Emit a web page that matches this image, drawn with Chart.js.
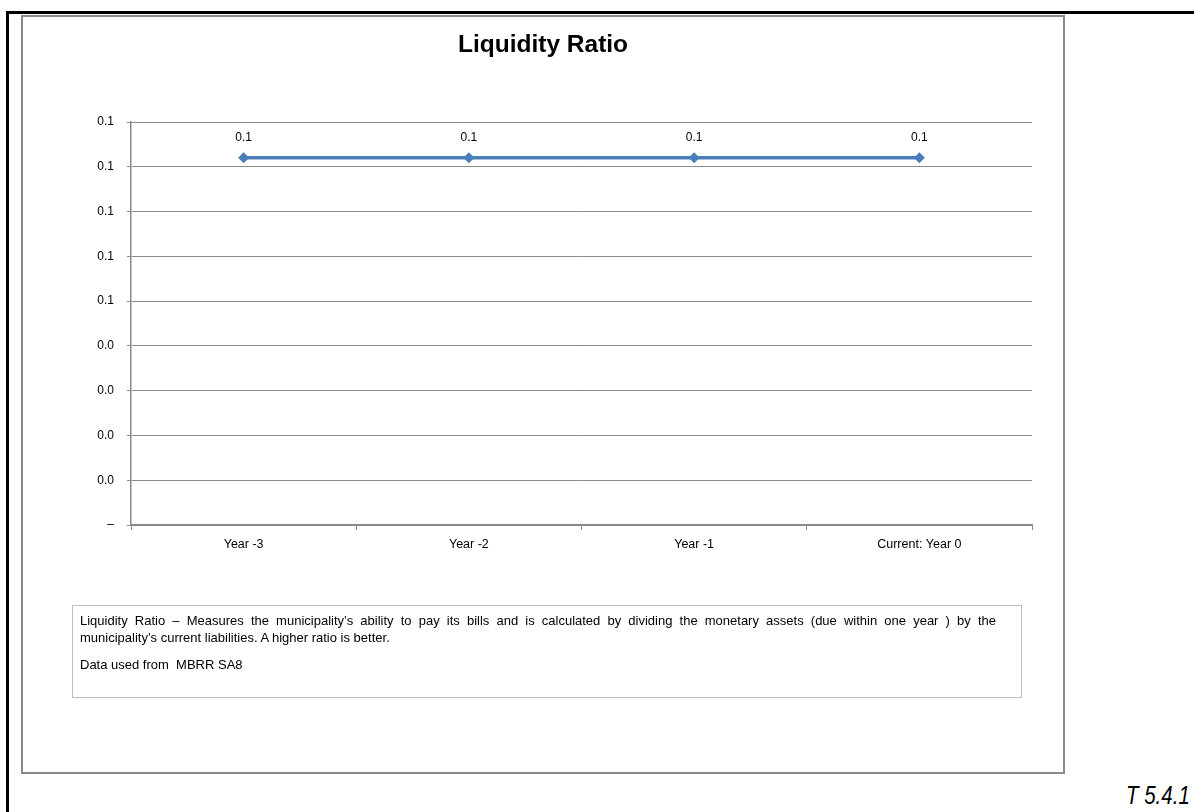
<!DOCTYPE html>
<html>
<head>
<meta charset="utf-8">
<title>Liquidity Ratio</title>
<script src="https://cdn.jsdelivr.net/npm/chart.js@4.4.0/dist/chart.umd.min.js"></script>
<style>
    body { margin: 0; background: #fff; font-family: "Liberation Sans", Arial, sans-serif; }
    #page { position: relative; width: 1194px; height: 812px; overflow: hidden; }
    #outer { position: absolute; left: 6px; top: 11px; width: 1300px; height: 900px; border-left: 3px solid #000; border-top: 3px solid #000; }
    #frame { position: absolute; left: 21px; top: 15px; width: 1040px; height: 755px; border: 2px solid #8a8a8a; }
    #title { position: absolute; left: 21px; width: 1044px; top: 30px; line-height: 28px; text-align: center; font-weight: bold; font-size: 24.5px; color: #000; }
    #chart { position: absolute; left: 22px; top: 16px; }
    #note { position: absolute; left: 72px; top: 605px; width: 948px; height: 91px; border: 1px solid #bdbdbd; font-size: 13px; color: #000; }
    #note .l1 { position: absolute; left: 7px; top: 6px; width: 916px; line-height: 17px; text-align: justify; text-align-last: justify; white-space: nowrap; }
    #note .l2 { position: absolute; left: 7px; top: 23px; line-height: 17px; }
    #note .l3 { position: absolute; left: 7px; top: 50px; line-height: 17px; }
    #ref { position: absolute; left: 1126px; top: 780px; line-height: 30px; font-style: italic; font-size: 25px; color: #000; transform: scaleX(0.82); transform-origin: left top; white-space: nowrap; }
</style>
</head>
<body>
<div id="page">
    <div id="outer"></div>
    <div id="frame"></div>
    <canvas id="chart" width="1040" height="755"></canvas>
    <div id="title">Liquidity Ratio</div>
    <div id="note">
        <div class="l1">Liquidity Ratio – Measures the municipality’s ability to pay its bills and is calculated by dividing the monetary assets (due within one year ) by the</div>
        <div class="l2">municipality’s current liabilities. A higher ratio is better.</div>
        <div class="l3">Data used from &nbsp;MBRR SA8</div>
    </div>
    <div id="ref">T 5.4.1</div>
</div>
<script>
const categories = ['Year -3', 'Year -2', 'Year -1', 'Current: Year 0'];
const liquidityRatio = [0.082, 0.082, 0.082, 0.082];
const yMin = 0;
const yMax = 0.09;
const yStep = 0.01;

// Excel-style number format: one decimal, dash for zero
function fmt(v) {
    const r = Math.round(v * 100) / 100;
    if (r === 0) return '–';
    return (Math.round(r * 10 + 1e-9) / 10).toFixed(1);
}

const pointLabels = {
    id: 'pointLabels',
    afterDatasetsDraw(chart) {
        const ctx = chart.ctx;
        const meta = chart.getDatasetMeta(0);
        ctx.save();
        ctx.font = '12px "Liberation Sans", Arial, sans-serif';
        ctx.fillStyle = '#000';
        ctx.textAlign = 'center';
        ctx.textBaseline = 'middle';
        meta.data.forEach((pt, i) => {
            ctx.fillText(fmt(liquidityRatio[i]), pt.x, pt.y - 20);
        });
        ctx.restore();
    }
};

const axisColor = '#8a8a8a';
const ctx = document.getElementById('chart').getContext('2d');
new Chart(ctx, {
    type: 'line',
    data: {
        labels: categories,
        datasets: [{
            data: liquidityRatio,
            borderColor: '#4a7ebb',
            backgroundColor: '#4a7ebb',
            borderWidth: 3.5,
            pointStyle: 'rectRot',
            pointRadius: 5.5,
            pointHoverRadius: 5.5,
            pointBorderWidth: 0,
            tension: 0,
            clip: false
        }]
    },
    options: {
        responsive: false,
        animation: false,
        layout: { padding: { top: 106, right: 30, bottom: 186, left: 0 } },
        scales: {
            x: {
                offset: true,
                grid: {
                    offset: true,
                    drawOnChartArea: false,
                    drawTicks: true,
                    tickLength: 5,
                    color: axisColor
                },
                border: { color: axisColor, width: 1.5 },
                ticks: {
                    color: '#000',
                    padding: 7,
                    maxRotation: 0,
                    font: { family: '"Liberation Sans", Arial, sans-serif', size: 12.5 }
                },
                afterFit(scale) { scale.height = 60; }
            },
            y: {
                min: yMin,
                max: yMax,
                grid: {
                    color: axisColor,
                    lineWidth: 1,
                    tickLength: 4
                },
                border: { color: axisColor, width: 1.5 },
                ticks: {
                    stepSize: yStep,
                    color: '#000',
                    padding: 13,
                    font: { family: '"Liberation Sans", Arial, sans-serif', size: 12 },
                    callback: (v) => fmt(v)
                },
                afterFit(scale) { scale.width = 109; }
            }
        },
        plugins: {
            legend: { display: false },
            title: { display: false },
            tooltip: { enabled: false }
        }
    },
    plugins: [pointLabels]
});
</script>
</body>
</html>
